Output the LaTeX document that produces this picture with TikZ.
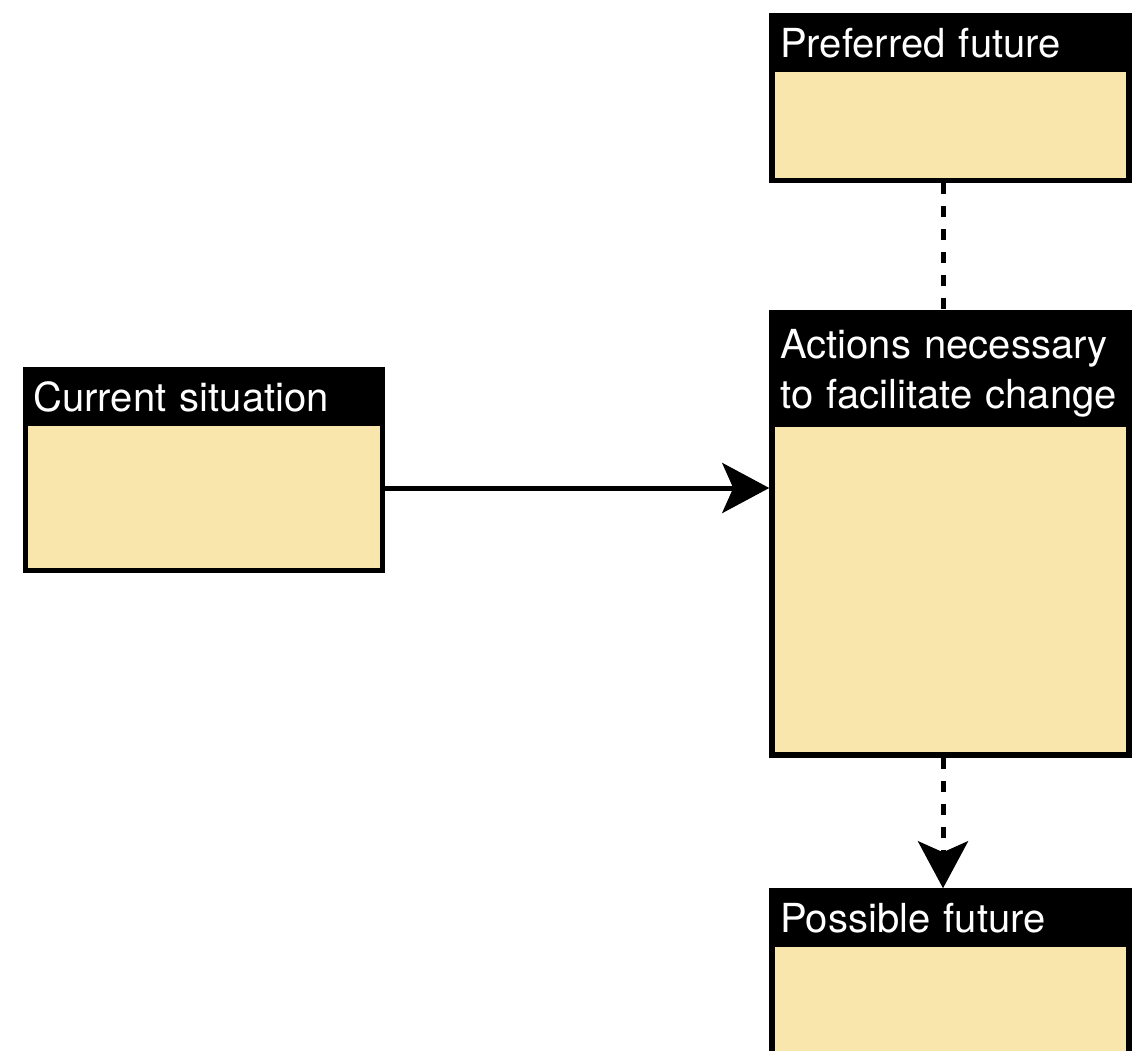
\documentclass[tikz,border=0pt]{standalone}
\usepackage{fontspec}
\setmainfont{TeX Gyre Heros}
\usetikzlibrary{arrows.meta}
\definecolor{boxfill}{HTML}{F8E6AD}
\tikzset{
    box/.style={draw=black, line width=5.5pt, fill=boxfill, minimum width=357pt, inner sep=0pt},
    boxhead/.style={fill=black, text=white, anchor=north west, outer sep=0pt,
        minimum width=362.5pt, text width=340.5pt, align=left,
        inner xsep=11pt, inner ysep=15pt, text height=29pt, text depth=0pt,
        font=\fontsize{40}{50}\selectfont},
    flow/.style={line width=5pt, -{Stealth[length=47pt, width=50pt, inset=11pt]}},
    link/.style={line width=5pt, dash pattern=on 11pt off 12pt},
}

\begin{document}
\begin{tikzpicture}[x=1pt, y=-1pt]
\useasboundingbox (0,0) rectangle (1135,1051);
\clip (0,0) rectangle (1135,1051);
% boxes
\node[box, minimum height=164.5pt] (pref) at (950.5,98.25) {};
\node[box, minimum height=442pt] (act) at (950.5,534) {};
\node[box, minimum height=200.5pt] (cur) at (203.75,470.25) {};
\node[box, minimum height=300pt] (poss) at (950.5,1041) {};
% headers
\node[boxhead] (prefhead) at (pref.north west) {Preferred future};
\node[boxhead, text depth=50pt, minimum height=116.75pt] (acthead) at (act.north west) {Actions necessary\\to facilitate change};
\node[boxhead] (curhead) at (cur.north west) {Current situation};
\node[boxhead] (posshead) at (poss.north west) {Possible future};
% connectors
\coordinate (curout) at ([yshift=-17.75pt]cur.east);
\draw[flow] (curout) -- (curout -| act.west);
\draw[link] ([xshift=-7.5pt]pref.south) -- ([xshift=-7.5pt]act.north);
\draw[flow, link] ([xshift=-7.5pt]act.south) -- ([xshift=-7.5pt]poss.north);
\end{tikzpicture}
\end{document}
